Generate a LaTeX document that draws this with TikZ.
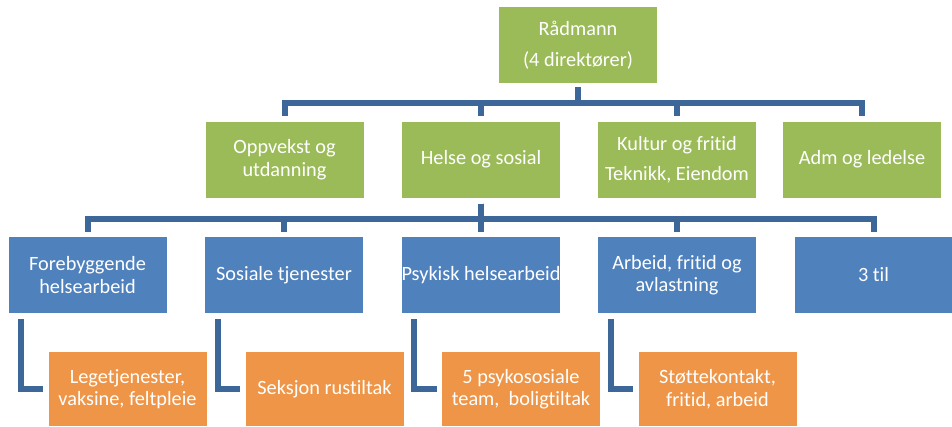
\documentclass[tikz,border=0pt]{standalone}
\usepackage{fontspec}
\setmainfont{Carlito}[Ligatures=NoCommon]
\definecolor{grn}{HTML}{9BBB59}
\definecolor{blu}{HTML}{4F81BD}
\definecolor{org}{HTML}{EE9548}
\definecolor{conn}{HTML}{3D6699}
\begin{document}
\begin{tikzpicture}[x=1pt,y=1pt,
  box/.style={minimum width=158pt, minimum height=76pt, inner sep=0pt, text=white,
    font=\fontsize{20.3}{22.5}\selectfont, align=center},
  gbox/.style={box, fill=grn},
  bbox/.style={box, fill=blu},
  obox/.style={box, fill=org, minimum height=74pt},
  link/.style={draw=conn, line width=6pt}]
\useasboundingbox (0,0) rectangle (952,-426);
% boxes
\node[gbox] (top) at (578,-45) {Rådmann\\[9pt](4 direktører)};
\node[gbox] (l2a) at (284.5,-159.5) {Oppvekst og\\utdanning};
\node[gbox] (l2b) at (481,-159.5) {Helse og sosial};
\node[gbox] (l2c) at (677,-159.5) {Kultur og fritid\\[7pt]Teknikk, Eiendom};
\node[gbox] (l2d) at (862,-159.5) {Adm og ledelse};
\node[bbox] (l3a) at (87.5,-275) {Forebyggende\\helsearbeid};
\node[bbox] (l3b) at (284,-275) {Sosiale tjenester};
\node[bbox] (l3c) at (481,-275) {Psykisk helsearbeid};
\node[bbox] (l3d) at (677,-275) {Arbeid, fritid og\\avlastning};
\node[bbox] (l3e) at (873.5,-275) {3 til};
\node[obox] (oa) at (127.5,-389) {Legetjenester,\\vaksine, feltpleie};
\node[obox] (ob) at (324.5,-389) {Seksjon rustiltak};
\node[obox] (oc) at (521,-389) {5 psykososiale\\team,\ \ boligtiltak};
\node[obox] (od) at (717.5,-389) {Støttekontakt,\\fritid, arbeid};
% buses
\coordinate (bus1) at (0,-103);
\coordinate (bus2) at (0,-219);
\foreach \c in {l2a,l2b,l2c,l2d}
  \draw[link] ([yshift=-4pt]top.south) |- (bus1 -| \c) -- ([yshift=5pt]\c.north);
\foreach \c in {l3a,l3b,l3c,l3d,l3e}
  \draw[link] ([yshift=-6pt]l2b.south) |- (bus2 -| \c) -- ([yshift=5pt]\c.north);
\foreach \p/\c in {l3a/oa,l3b/ob,l3c/oc,l3d/od}
  \draw[link] ([xshift=13pt,yshift=-6pt]\p.south west) |- ([xshift=-5pt]\c.west);
\end{tikzpicture}
\end{document}
